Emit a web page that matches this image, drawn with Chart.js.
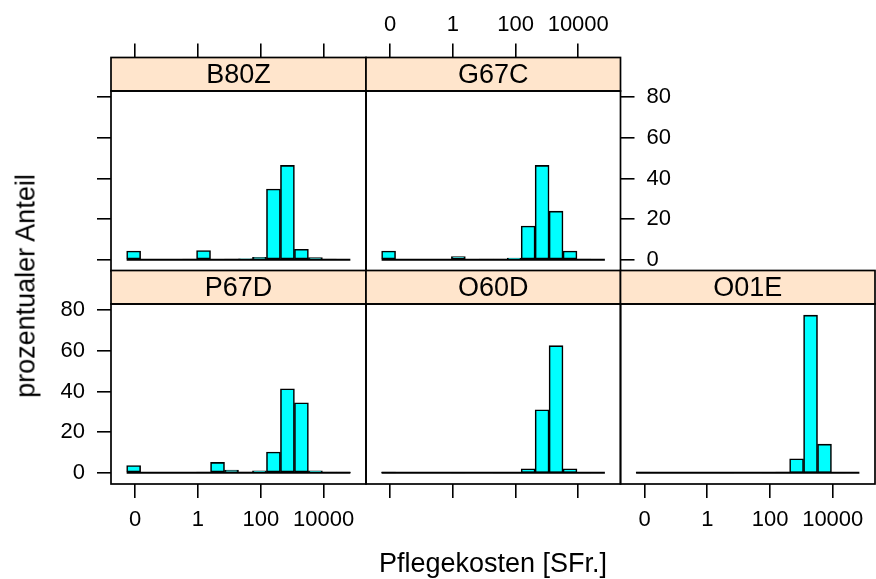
<!DOCTYPE html>
<html>
<head>
<meta charset="utf-8">
<script src="https://cdn.jsdelivr.net/npm/chart.js@4.4.0/dist/chart.umd.min.js"></script>
<style>
  body { margin: 0; background: #fff; }
  #wrap { position: relative; width: 876px; height: 579px; overflow: hidden; font-family: "Liberation Sans", Arial, sans-serif; }
  #wrap canvas { position: absolute; left: 0; top: 0; }
  .lab { position: absolute; font-size: 27px; line-height: 27px; color: #000; white-space: nowrap; }
  #xlab { left: 493px; top: 550px; transform: translateX(-50%); }
  #ylab { left: 26px; top: 286px; transform: translate(-50%, -50%) rotate(-90deg); }
</style>
</head>
<body>
<div id="wrap">
  <canvas id="p0" width="876" height="579"></canvas>
  <canvas id="p1" width="876" height="579"></canvas>
  <canvas id="p2" width="876" height="579"></canvas>
  <canvas id="p3" width="876" height="579"></canvas>
  <canvas id="p4" width="876" height="579"></canvas>
  <div class="lab" id="xlab">Pflegekosten [SFr.]</div>
  <div class="lab" id="ylab">prozentualer Anteil</div>
</div>
<script>
// histogram bins on log10(cost), shared by all panels
const binStart = -2.27;
const binWidth = 0.445;

// percent of cases per bin
const pctB80Z = [4.3, 0, 0, 0, 0.1, 4.6, 0, 0.2, 0.5, 1.2, 34.8, 46.4, 5.2, 1.1, 0.1, 0];
const pctG67C = [4.3, 0, 0, 0, 0, 1.6, 0, 0.1, 0.2, 0.8, 16.6, 46.4, 23.9, 4.3, 0.2, 0];
const pctP67D = [3.6, 0, 0, 0, 0, 0.1, 5.1, 1.3, 0.2, 1.0, 10.2, 41.3, 34.4, 1.0, 0.2, 0.1];
const pctO60D = [0.4, 0, 0, 0, 0, 0.1, 0, 0, 0.1, 0.2, 2.0, 31.0, 62.5, 2.0, 0.1, 0];
const pctO01E = [0.3, 0, 0, 0, 0, 0, 0.1, 0, 0, 0.1, 0.3, 6.9, 77.5, 14.1, 0.1, 0];

const xTickValues = [-2, 0, 2, 4];
const xTickLabels = ['0', '1', '100', '10000'];
const yTickValues = [0, 20, 40, 60, 80];

const W = 876, H = 579;
const xMin = -2.768, xMax = 5.348;
const yMin = -5.5, yMax = 83;
const stripH = 33.5;
const axisSize = 60;
const FONT = '"Liberation Sans", Arial, sans-serif';

const panels = [
  { id: 'p0', label: 'B80Z', data: pctB80Z, box: [111, 366, 91, 271],   x: 'top',    xLab: false, y: 'left',  yLab: false },
  { id: 'p1', label: 'G67C', data: pctG67C, box: [366, 620.5, 91, 271], x: 'top',    xLab: true,  y: 'right', yLab: true },
  { id: 'p2', label: 'P67D', data: pctP67D, box: [111, 366, 304, 484],  x: 'bottom', xLab: true,  y: 'left',  yLab: true },
  { id: 'p3', label: 'O60D', data: pctO60D, box: [366, 620.5, 304, 484], x: 'bottom', xLab: false, y: null,   yLab: false },
  { id: 'p4', label: 'O01E', data: pctO01E, box: [620.5, 875, 304, 484], x: 'bottom', xLab: true,  y: null,   yLab: false }
];

// strip on top of each panel plus the panel frame
const panelFrame = {
  id: 'panelFrame',
  afterDatasetsDraw(chart, args, opts) {
    const { ctx, chartArea: a } = chart;
    ctx.save();
    ctx.fillStyle = '#ffe5cc';
    ctx.fillRect(a.left, a.top - stripH, a.width, stripH);
    ctx.strokeStyle = '#000';
    ctx.lineWidth = 1.7;
    ctx.strokeRect(a.left, a.top - stripH, a.width, stripH);
    ctx.strokeRect(a.left, a.top, a.width, a.height);
    ctx.fillStyle = '#000';
    ctx.font = '27px ' + FONT;
    ctx.textAlign = 'center';
    ctx.textBaseline = 'middle';
    ctx.fillText(opts.label, (a.left + a.right) / 2, a.top - stripH / 2 + 1);
    ctx.restore();
  }
};

function makePanel(p) {
  const bars = p.data.map((v, i) => ({ x: binStart + binWidth * (i + 0.5), y: v }));
  const binEnd = binStart + binWidth * p.data.length;
  const [left, right, top, bottom] = p.box;
  // top axis sits above the strip, so it gets the whole space up to the page edge
  const xSize = p.x === 'top' ? top : axisSize;

  const xScale = {
    type: 'linear',
    position: p.x,
    min: xMin,
    max: xMax,
    offset: false,
    afterBuildTicks: s => { s.ticks = xTickValues.map(v => ({ value: v })); },
    afterFit: s => { s.height = xSize; },
    grid: { offset: false, drawOnChartArea: false, drawTicks: true, tickLength: p.x === 'top' ? 14 + stripH : 14, color: '#000', lineWidth: 1.6 },
    border: { display: false },
    ticks: {
      display: p.xLab, padding: p.x === 'top' ? 5 : 9, color: '#000', maxRotation: 0, autoSkip: false,
      font: { size: 22, family: FONT },
      callback: v => xTickLabels[xTickValues.indexOf(v)]
    }
  };

  const yScale = {
    type: 'linear',
    position: p.y || 'left',
    display: !!p.y,
    min: yMin,
    max: yMax,
    afterBuildTicks: s => { s.ticks = yTickValues.map(v => ({ value: v })); },
    grid: { drawOnChartArea: false, drawTicks: true, tickLength: 14, color: '#000', lineWidth: 1.6 },
    border: { display: false },
    ticks: { display: p.yLab, padding: 12, color: '#000', font: { size: 22, family: FONT } }
  };
  if (p.y) yScale.afterFit = s => { s.width = axisSize; };

  const padding = {
    left: left - (p.y === 'left' ? axisSize : 0),
    right: W - right - (p.y === 'right' ? axisSize : 0),
    top: top - (p.x === 'top' ? xSize : 0),
    bottom: H - bottom - (p.x === 'bottom' ? xSize : 0)
  };

  return new Chart(document.getElementById(p.id), {
    type: 'bar',
    data: {
      datasets: [
        {
          type: 'line',
          data: [{ x: binStart, y: 0 }, { x: binEnd, y: 0 }],
          borderColor: '#000',
          borderWidth: 2,
          pointRadius: 0,
          order: 0
        },
        {
          data: bars,
          backgroundColor: '#00ffff',
          borderColor: '#000',
          borderWidth: 1.6,
          borderSkipped: false,
          barPercentage: 1,
          categoryPercentage: 1,
          order: 1
        }
      ]
    },
    options: {
      responsive: false,
      animation: false,
      events: [],
      layout: { padding },
      scales: { x: xScale, y: yScale },
      plugins: {
        legend: { display: false },
        tooltip: { enabled: false },
        panelFrame: { label: p.label }
      }
    },
    plugins: [panelFrame]
  });
}

panels.forEach(makePanel);
</script>
</body>
</html>
